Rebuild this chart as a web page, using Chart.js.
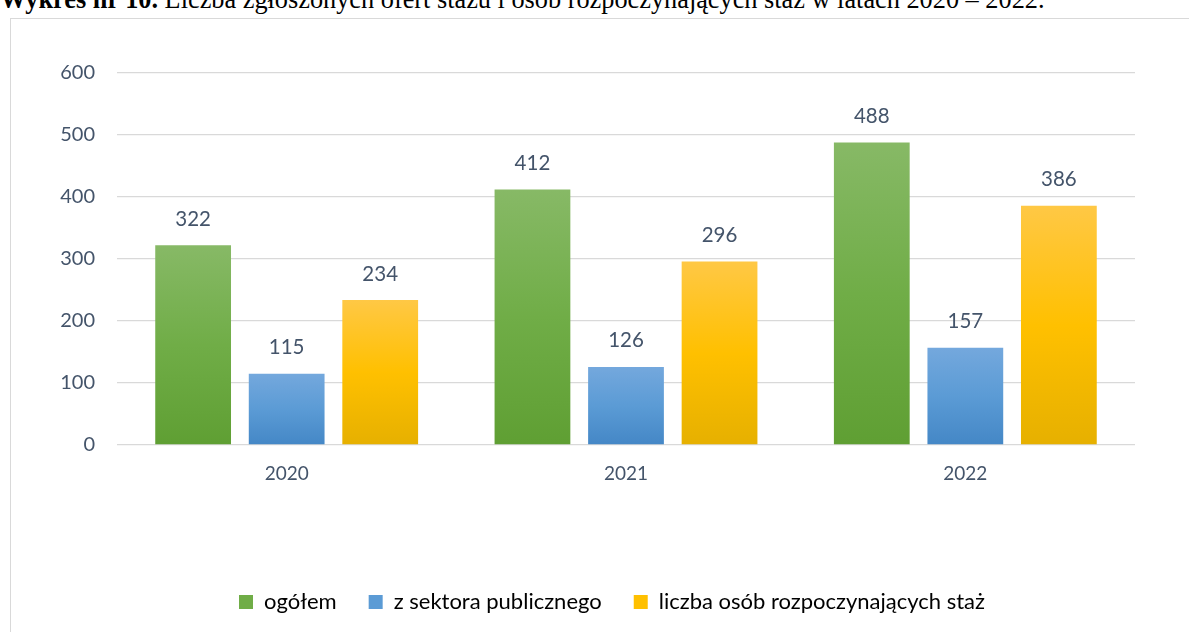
<!DOCTYPE html>
<html>
<head>
<meta charset="utf-8">
<script src="https://cdn.jsdelivr.net/npm/chart.js@4/dist/chart.umd.min.js"></script>
<style>
    body {
        margin: 0;
        width: 1190px;
        height: 632px;
        overflow: hidden;
        background: #ffffff;
        position: relative;
    }
    .caption {
        position: absolute;
        left: 0;
        top: -13px;
        font-family: "Liberation Serif", "DejaVu Serif", serif;
        font-size: 26.3px;
        line-height: 26px;
        color: #000000;
        white-space: nowrap;
    }
    .chart-box {
        position: absolute;
        left: 10px;
        top: 18px;
        width: 1178px;
        height: 614px;
        border: 1px solid #d9d9d9;
        border-bottom: none;
        border-right: none;
    }
</style>
</head>
<body>
<div class="caption"><b>Wykres nr 10.</b> Liczba zgłoszonych ofert stażu i osób rozpoczynających staż w latach 2020 – 2022.</div>
<div class="chart-box">
    <canvas id="chart" width="1178" height="614"></canvas>
</div>
<script>
const years = ['2020', '2021', '2022'];
const seriesNames = ['ogółem', 'z sektora publicznego', 'liczba osób rozpoczynających staż'];
const ogolem = [322, 412, 488];
const sektorPubliczny = [115, 126, 157];
const rozpoczynajacy = [234, 296, 386];
const yTicks = [0, 100, 200, 300, 400, 500, 600];

// top, middle, bottom colour of each bar gradient
const greenShades = ['#87b966', '#70ad47', '#5f9f33'];
const blueShades = ['#74a8dd', '#5b9bd5', '#4487c6'];
const yellowShades = ['#ffc845', '#ffc000', '#e6b000'];

function barGradient(shades) {
    return (context) => {
        const chart = context.chart;
        if (!chart.chartArea || context.type !== 'data') {
            return shades[1];
        }
        const yScale = chart.scales.y;
        const top = yScale.getPixelForValue(context.raw);
        const bottom = yScale.getPixelForValue(0);
        const gradient = chart.ctx.createLinearGradient(0, top, 0, bottom);
        gradient.addColorStop(0, shades[0]);
        gradient.addColorStop(0.5, shades[1]);
        gradient.addColorStop(1, shades[2]);
        return gradient;
    };
}

const valueLabels = {
    id: 'valueLabels',
    afterDatasetsDraw(chart) {
        const ctx = chart.ctx;
        ctx.save();
        ctx.font = '20.5px Lato, "Open Sans", sans-serif';
        ctx.fillStyle = '#44546a';
        ctx.textAlign = 'center';
        ctx.textBaseline = 'middle';
        chart.data.datasets.forEach((dataset, i) => {
            chart.getDatasetMeta(i).data.forEach((bar, j) => {
                ctx.fillText(dataset.data[j], bar.x, bar.y - 26);
            });
        });
        ctx.restore();
    }
};

// the original legend sits a bit right of the canvas centre
const legendShift = {
    id: 'legendShift',
    afterLayout(chart) {
        if (chart.legend) {
            chart.legend.left += 78;
        }
    }
};

new Chart(document.getElementById('chart').getContext('2d'), {
    type: 'bar',
    data: {
        labels: years,
        datasets: [
            { label: seriesNames[0], data: ogolem, backgroundColor: barGradient(greenShades) },
            { label: seriesNames[1], data: sektorPubliczny, backgroundColor: barGradient(blueShades) },
            { label: seriesNames[2], data: rozpoczynajacy, backgroundColor: barGradient(yellowShades) }
        ]
    },
    options: {
        responsive: false,
        animation: false,
        layout: {
            padding: { top: 54, right: 54, left: 0, bottom: 10 }
        },
        datasets: {
            bar: {
                categoryPercentage: 0.827,
                barPercentage: 0.81
            }
        },
        scales: {
            x: {
                grid: { display: false, drawTicks: false },
                border: { display: false },
                ticks: {
                    padding: 17,
                    color: '#44546a',
                    font: { family: 'Lato, "Open Sans", sans-serif', size: 19 }
                },
                afterFit(scale) {
                    scale.height = 114;
                }
            },
            y: {
                min: 0,
                max: 600,
                afterBuildTicks(scale) {
                    scale.ticks = yTicks.map((v) => ({ value: v }));
                },
                grid: { color: '#d9d9d9', lineWidth: 1.3, drawTicks: false },
                border: { display: false },
                ticks: {
                    padding: 22,
                    color: '#44546a',
                    font: { family: 'Lato, "Open Sans", sans-serif', size: 20 }
                },
                afterFit(scale) {
                    scale.width = 106;
                }
            }
        },
        plugins: {
            legend: {
                position: 'bottom',
                labels: {
                    boxWidth: 14,
                    boxHeight: 14,
                    padding: 32,
                    color: '#44546a',
                    font: { family: 'Lato, "Open Sans", sans-serif', size: 22 },
                    generateLabels(chart) {
                        const solid = [greenShades[1], blueShades[1], yellowShades[1]];
                        return chart.data.datasets.map((dataset, i) => ({
                            text: dataset.label,
                            fillStyle: solid[i],
                            strokeStyle: solid[i],
                            lineWidth: 0,
                            datasetIndex: i,
                            hidden: false
                        }));
                    }
                }
            },
            tooltip: { enabled: false }
        }
    },
    plugins: [valueLabels, legendShift]
});
</script>
</body>
</html>
